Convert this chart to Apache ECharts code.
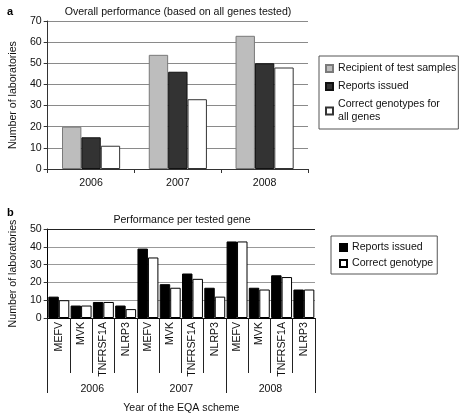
<!DOCTYPE html>
<html><head><meta charset="utf-8">
<script src="https://cdn.jsdelivr.net/npm/echarts@6/dist/echarts.min.js"></script>
<style>html,body{margin:0;padding:0;background:#fff}#c{width:463px;height:415px}</style>
</head><body><div id="c"></div>
<script>
const yearsA = ['2006','2007','2008'];
const recipients = [20, 54, 63];
const reportsA = [15, 46, 50];
const correctAll = [11, 33, 48];

const genes = ['MEFV','MVK','TNFRSF1A','NLRP3','MEFV','MVK','TNFRSF1A','NLRP3','MEFV','MVK','TNFRSF1A','NLRP3'];
const yearsB = ['2006','2007','2008'];
const reportsB = [12, 7, 9, 7, 39, 19, 25, 17, 43, 17, 24, 16];
const correctB = [10, 7, 9, 5, 34, 17, 22, 12, 43, 16, 23, 16];

const F = 'Liberation Sans, Arial, sans-serif';
const FS = 10.6;
const chart = echarts.init(document.getElementById('c'), null, {renderer:'canvas'});
const txt = {fontFamily: F, fontSize: FS, color: '#111'};
chart.setOption({
  animation: false,
  title: [
    {text: 'a', left: 2, top: 1, textStyle: {fontFamily: F, fontSize: 11, fontWeight: 'bold', color: '#000'}},
    {text: 'Overall performance (based on all genes tested)', left: 173, top: 2, textAlign: 'center', textStyle: {fontFamily: F, fontSize: FS, fontWeight: 'normal', color: '#111'}},
    {text: 'b', left: 2, top: 202, textStyle: {fontFamily: F, fontSize: 11, fontWeight: 'bold', color: '#000'}},
    {text: 'Performance per tested gene', left: 177, top: 210, textAlign: 'center', textStyle: {fontFamily: F, fontSize: FS, fontWeight: 'normal', color: '#111'}}
  ],
  legend: [
    {
      data: ['Recipient of test samples','Reports issued','Correct genotypes for\nall genes'],
      orient: 'vertical', left: 319, top: 56,
      padding: [6, 2, 5, 6], itemGap: 5,
      itemWidth: 7, itemHeight: 7, icon: 'rect',
      borderColor: '#555', borderWidth: 1,
      textStyle: {fontFamily: F, fontSize: FS, color: '#111', lineHeight: 13},
    },
    {
      data: ['Reports issued ', 'Correct genotype'],
      orient: 'vertical', left: 331, top: 236,
      padding: [6, 4, 5, 8], itemGap: 5,
      itemWidth: 7, itemHeight: 7, icon: 'rect',
      borderColor: '#555', borderWidth: 1,
      textStyle: {fontFamily: F, fontSize: FS, color: '#111'},
    }
  ],
  grid: [
    {left: 39, top: 21, width: 269, height: 148},
    {left: 39, top: 229, width: 276, height: 93}
  ],
  xAxis: [
    {type: 'category', gridIndex: 0, data: yearsA,
     axisLine: {lineStyle: {color: '#333'}},
     axisTick: {show: true, length: 4, lineStyle: {color: '#333'}},
     axisLabel: Object.assign({margin: 9}, txt)},
    {type: 'category', gridIndex: 1, data: genes,
     axisLine: {lineStyle: {color: '#000'}},
     axisTick: {show: true, length: 55, lineStyle: {color: '#222'}},
     axisLabel: Object.assign({rotate: 90, margin: 4, interval: 0}, txt)},
    {type: 'category', gridIndex: 1, data: yearsB, position: 'bottom',
     axisLine: {show: true, lineStyle: {color: '#000'}},
     axisTick: {show: true, length: 75, lineStyle: {color: '#222'}},
     axisLabel: Object.assign({margin: 66}, txt),
     name: 'Year of the EQA scheme', nameLocation: 'middle', nameGap: 85,
     nameTextStyle: txt}
  ],
  yAxis: [
    {type: 'value', gridIndex: 0, min: 0, max: 70, interval: 10,
     name: 'Number of laboratories', nameLocation: 'middle', nameGap: 24, nameTextStyle: txt,
     axisLine: {show: true, lineStyle: {color: '#333'}},
     axisTick: {show: true, length: 4, lineStyle: {color: '#333'}},
     axisLabel: Object.assign({margin: 6}, txt),
     splitLine: {lineStyle: {color: '#8a8a8a'}}},
    {type: 'value', gridIndex: 1, min: 0, max: 50, interval: 10,
     name: 'Number of laboratories', nameLocation: 'middle', nameGap: 24, nameTextStyle: txt,
     axisLine: {show: true, lineStyle: {color: '#000'}},
     axisTick: {show: true, length: 4, lineStyle: {color: '#333'}},
     axisLabel: Object.assign({margin: 6}, txt),
     splitLine: {lineStyle: {color: ['#999','#999','#999','#999','#999','#222']}}}
  ],
  series: [
    {name: 'Recipient of test samples', type: 'bar', xAxisIndex: 0, yAxisIndex: 0, data: recipients,
     barGap: '0%', barCategoryGap: '33%',
     itemStyle: {color: '#bdbdbd', borderColor: '#7a7a7a', borderWidth: 1}},
    {name: 'Reports issued', type: 'bar', xAxisIndex: 0, yAxisIndex: 0, data: reportsA,
     barGap: '0%', barCategoryGap: '33%',
     itemStyle: {color: '#333333', borderColor: '#111', borderWidth: 1}},
    {name: 'Correct genotypes for\nall genes', type: 'bar', xAxisIndex: 0, yAxisIndex: 0, data: correctAll,
     barGap: '0%', barCategoryGap: '33%',
     itemStyle: {color: '#ffffff', borderColor: '#333', borderWidth: 1}},
    {name: 'Reports issued ', type: 'bar', xAxisIndex: 1, yAxisIndex: 1, data: reportsB,
     barGap: '0%', barCategoryGap: '6%',
     itemStyle: {color: '#000000', borderColor: '#000', borderWidth: 1}},
    {name: 'Correct genotype', type: 'bar', xAxisIndex: 1, yAxisIndex: 1, data: correctB,
     barGap: '0%', barCategoryGap: '6%',
     itemStyle: {color: '#ffffff', borderColor: '#000', borderWidth: 1}}
  ]
});
</script></body></html>
